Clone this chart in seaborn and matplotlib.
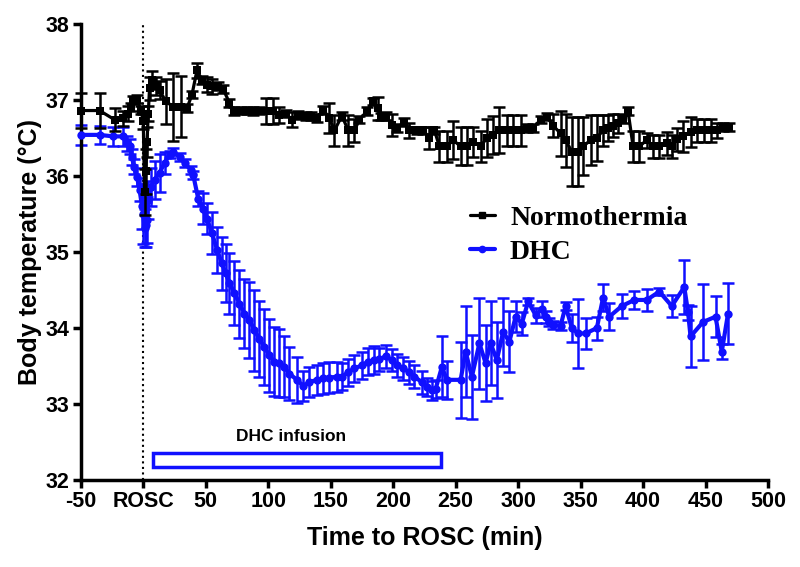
import numpy as np
import pandas as pd
import matplotlib as mpl
import matplotlib.pyplot as plt
import matplotlib.patches as patches
from matplotlib.lines import Line2D
import seaborn as sns

mpl.rcParams['axes.unicode_minus'] = False

# Normothermia (mean, error)
NORMO_X = [-50, -35, -23, -16, -12, -10, -8, -5, -2, 0, 1, 2, 3, 4, 5, 7, 10, 13, 18, 24,
           30, 35, 39, 43, 47, 51, 55, 60, 64, 69, 73, 78, 83, 88, 93, 98, 104, 109, 114, 119,
           124, 130, 134, 139, 144, 149, 153, 159, 164, 169, 173, 179, 184, 188, 190, 194, 199, 203, 209, 213,
           219, 224, 229, 233, 237, 243, 248, 254, 259, 264, 270, 275, 280, 285, 291, 296, 302, 307, 312, 318,
           323, 328, 334, 338, 343, 348, 352, 358, 363, 368, 372, 376, 380, 384, 388, 392, 397, 403, 408, 413,
           419, 423, 427, 432, 438, 443, 449, 454, 459, 464, 469]
NORMO_Y = [36.86, 36.86, 36.74, 36.76, 36.82, 36.91, 37.00, 37.01, 36.87, 36.72, 35.79, 36.06, 36.45, 36.82, 37.15, 37.26, 37.18, 37.13, 36.98, 36.91,
           36.91, 36.89, 37.07, 37.39, 37.26, 37.20, 37.18, 37.18, 37.14, 36.96, 36.85, 36.86, 36.86, 36.85, 36.86, 36.85, 36.85, 36.80, 36.82, 36.74,
           36.80, 36.79, 36.79, 36.76, 36.87, 36.76, 36.60, 36.79, 36.60, 36.60, 36.74, 36.85, 36.98, 36.89, 36.78, 36.79, 36.67, 36.63, 36.71, 36.60,
           36.60, 36.60, 36.50, 36.60, 36.39, 36.39, 36.47, 36.39, 36.39, 36.45, 36.39, 36.50, 36.54, 36.60, 36.60, 36.60, 36.60, 36.63, 36.63, 36.74,
           36.78, 36.66, 36.56, 36.47, 36.32, 36.32, 36.39, 36.47, 36.50, 36.60, 36.63, 36.66, 36.69, 36.75, 36.85, 36.39, 36.39, 36.47, 36.39, 36.39,
           36.43, 36.39, 36.48, 36.52, 36.58, 36.60, 36.60, 36.60, 36.60, 36.64, 36.64]
NORMO_ERR = [0.23, 0.23, 0.15, 0.10, 0.10, 0.05, 0.05, 0.05, 0.05, 0.10, 0.30, 0.30, 0.20, 0.10, 0.15, 0.12, 0.12, 0.12, 0.30, 0.45,
             0.40, 0.05, 0.05, 0.10, 0.05, 0.10, 0.10, 0.05, 0.05, 0.05, 0.05, 0.05, 0.05, 0.05, 0.05, 0.17, 0.17, 0.10, 0.05, 0.10,
             0.05, 0.05, 0.05, 0.05, 0.05, 0.20, 0.20, 0.05, 0.20, 0.15, 0.05, 0.05, 0.05, 0.15, 0.05, 0.05, 0.15, 0.05, 0.05, 0.10,
             0.05, 0.05, 0.15, 0.05, 0.20, 0.20, 0.25, 0.25, 0.25, 0.20, 0.20, 0.25, 0.25, 0.30, 0.20, 0.20, 0.20, 0.05, 0.05, 0.05,
             0.05, 0.15, 0.30, 0.35, 0.45, 0.45, 0.38, 0.33, 0.30, 0.20, 0.17, 0.15, 0.12, 0.05, 0.05, 0.20, 0.20, 0.10, 0.15, 0.15,
             0.15, 0.15, 0.15, 0.20, 0.20, 0.15, 0.15, 0.15, 0.10, 0.05, 0.05]

# DHC (mean, error)
DHC_X = [-50, -35, -24, -16, -13, -11, -9, -7.5, -5, -3, -1, 0, 1, 2, 3, 4, 6, 9, 13, 17,
         21, 24, 29, 33, 38, 40, 44, 48, 51, 55, 59, 63, 66, 69, 73, 77, 81, 85, 89, 93,
         97, 101, 105, 109, 113, 117, 123, 128, 133, 139, 144, 149, 155, 159, 164, 169, 175, 180, 185, 189,
         194, 199, 203, 208, 213, 217, 223, 227, 231, 234, 239, 243, 254, 258, 263, 269, 274, 278, 283, 288,
         293, 298, 303, 308, 314, 319, 322, 325, 328, 334, 338, 343, 348, 354, 363, 368, 373, 383, 393, 403,
         413, 423, 433, 436, 438, 448, 458, 463, 468]
DHC_Y = [36.54, 36.54, 36.52, 36.52, 36.43, 36.39, 36.25, 36.12, 35.99, 35.82, 35.60, 35.50, 35.31, 35.36, 35.42, 35.68, 35.86, 35.95, 36.04, 36.17,
         36.28, 36.32, 36.25, 36.17, 36.08, 36.01, 35.70, 35.57, 35.44, 35.25, 35.03, 34.85, 34.72, 34.59, 34.46, 34.32, 34.19, 34.11, 33.97, 33.86,
         33.75, 33.64, 33.56, 33.54, 33.49, 33.40, 33.32, 33.24, 33.29, 33.32, 33.34, 33.35, 33.36, 33.36, 33.42, 33.47, 33.51, 33.56, 33.58, 33.59,
         33.63, 33.58, 33.51, 33.47, 33.42, 33.36, 33.29, 33.23, 33.18, 33.20, 33.49, 33.32, 33.32, 33.69, 33.36, 33.80, 33.54, 33.80, 33.58, 33.95,
         33.82, 34.15, 34.06, 34.35, 34.17, 34.25, 34.15, 34.08, 34.04, 34.03, 34.29, 34.00, 33.93, 33.93, 34.00, 34.40, 34.15, 34.29, 34.37, 34.37,
         34.48, 34.29, 34.54, 34.21, 33.89, 34.08, 34.15, 33.69, 34.19]
DHC_ERR = [0.13, 0.12, 0.12, 0.12, 0.10, 0.10, 0.10, 0.10, 0.12, 0.15, 0.30, 0.40, 0.25, 0.30, 0.30, 0.25, 0.25, 0.25, 0.25, 0.15,
           0.05, 0.05, 0.05, 0.05, 0.05, 0.05, 0.10, 0.20, 0.20, 0.28, 0.30, 0.35, 0.38, 0.40, 0.42, 0.45, 0.45, 0.50, 0.53, 0.50,
           0.50, 0.48, 0.45, 0.45, 0.40, 0.35, 0.30, 0.20, 0.20, 0.20, 0.20, 0.20, 0.20, 0.18, 0.18, 0.18, 0.18, 0.18, 0.18, 0.15,
           0.15, 0.15, 0.15, 0.15, 0.15, 0.15, 0.15, 0.12, 0.12, 0.12, 0.40, 0.25, 0.50, 0.60, 0.55, 0.60, 0.50, 0.55, 0.50, 0.45,
           0.40, 0.20, 0.15, 0.05, 0.10, 0.10, 0.08, 0.05, 0.05, 0.05, 0.05, 0.18, 0.45, 0.20, 0.15, 0.18, 0.18, 0.16, 0.12, 0.15,
           0.05, 0.15, 0.36, 0.10, 0.40, 0.50, 0.27, 0.10, 0.40]

X_TICKS = [-50, 0, 50, 100, 150, 200, 250, 300, 350, 400, 450, 500]
X_TICK_LABELS = ['-50', 'ROSC', '50', '100', '150', '200', '250', '300', '350', '400', '450', '500']

BLUE = '#1010ff'

normo = pd.DataFrame({'time': NORMO_X, 'temp': NORMO_Y, 'err': NORMO_ERR, 'group': 'Normothermia'})
dhc = pd.DataFrame({'time': DHC_X, 'temp': DHC_Y, 'err': DHC_ERR, 'group': 'DHC'})

sns.set_style('ticks')
plt.rcParams['font.family'] = ['Liberation Sans', 'DejaVu Sans']
plt.rcParams['text.color'] = 'black'
plt.rcParams['axes.labelcolor'] = 'black'
plt.rcParams['xtick.color'] = 'black'
plt.rcParams['ytick.color'] = 'black'

fig = plt.figure(figsize=(8, 5.67), dpi=100)
ax = fig.add_axes([0.101, 0.153, 0.859, 0.805])

# blue series
ax.errorbar(dhc['time'], dhc['temp'], yerr=dhc['err'], fmt='none', ecolor=BLUE,
            elinewidth=1.8, capsize=4, capthick=1.8, zorder=2, clip_on=False)
sns.lineplot(data=dhc, x='time', y='temp', color=BLUE, lw=3, marker='o',
             markersize=6, markeredgewidth=0, ax=ax, zorder=3, clip_on=False, legend=False)

# black series
ax.errorbar(normo['time'], normo['temp'], yerr=normo['err'], fmt='none', ecolor='black',
            elinewidth=1.8, capsize=4, capthick=1.8, zorder=4, clip_on=False)
sns.lineplot(data=normo, x='time', y='temp', color='black', lw=2.3, marker='s',
             markersize=5.5, markeredgewidth=0, ax=ax, zorder=5, clip_on=False, legend=False)

ax.axvline(0, color='black', ls=':', lw=1.5, zorder=1)

rect = patches.Rectangle((8, 32.17), 230, 0.19, facecolor='white', edgecolor=BLUE, lw=2.5, zorder=3)
ax.add_patch(rect)
ax.text(118, 32.47, 'DHC infusion', ha='center', va='bottom', fontsize=12.5, fontweight='bold')

ax.set_xlim(-50, 500)
ax.set_ylim(32, 38)
ax.set_xticks(X_TICKS)
ax.set_xticklabels(X_TICK_LABELS)
ax.set_yticks([32, 33, 34, 35, 36, 37, 38])
ax.tick_params(axis='both', direction='out', length=6, width=2.5, labelsize=15.5, colors='black', pad=2)
for lbl in ax.get_xticklabels() + ax.get_yticklabels():
    lbl.set_fontweight('bold')
sns.despine(ax=ax)
for sp in ['left', 'bottom']:
    ax.spines[sp].set_linewidth(2.5)
    ax.spines[sp].set_color('black')

ax.set_xlabel('Time to ROSC (min)', fontsize=18, fontweight='bold', labelpad=10)
ax.set_ylabel('Body temperature (°C)', fontsize=18, fontweight='bold', labelpad=3)

handles = [Line2D([], [], color='black', lw=2.3, marker='s', markersize=4),
           Line2D([], [], color=BLUE, lw=3, marker='o', markersize=4.5)]
ax.legend(handles, ['Normothermia', 'DHC'], loc='center left', bbox_to_anchor=(0.566, 0.537),
          frameon=False, handlelength=0.9, handletextpad=0.55, labelspacing=0.3,
          borderpad=0, borderaxespad=0,
          prop={'family': 'Liberation Serif', 'weight': 'bold', 'size': 20})

fig.savefig('out.png', dpi=100)
